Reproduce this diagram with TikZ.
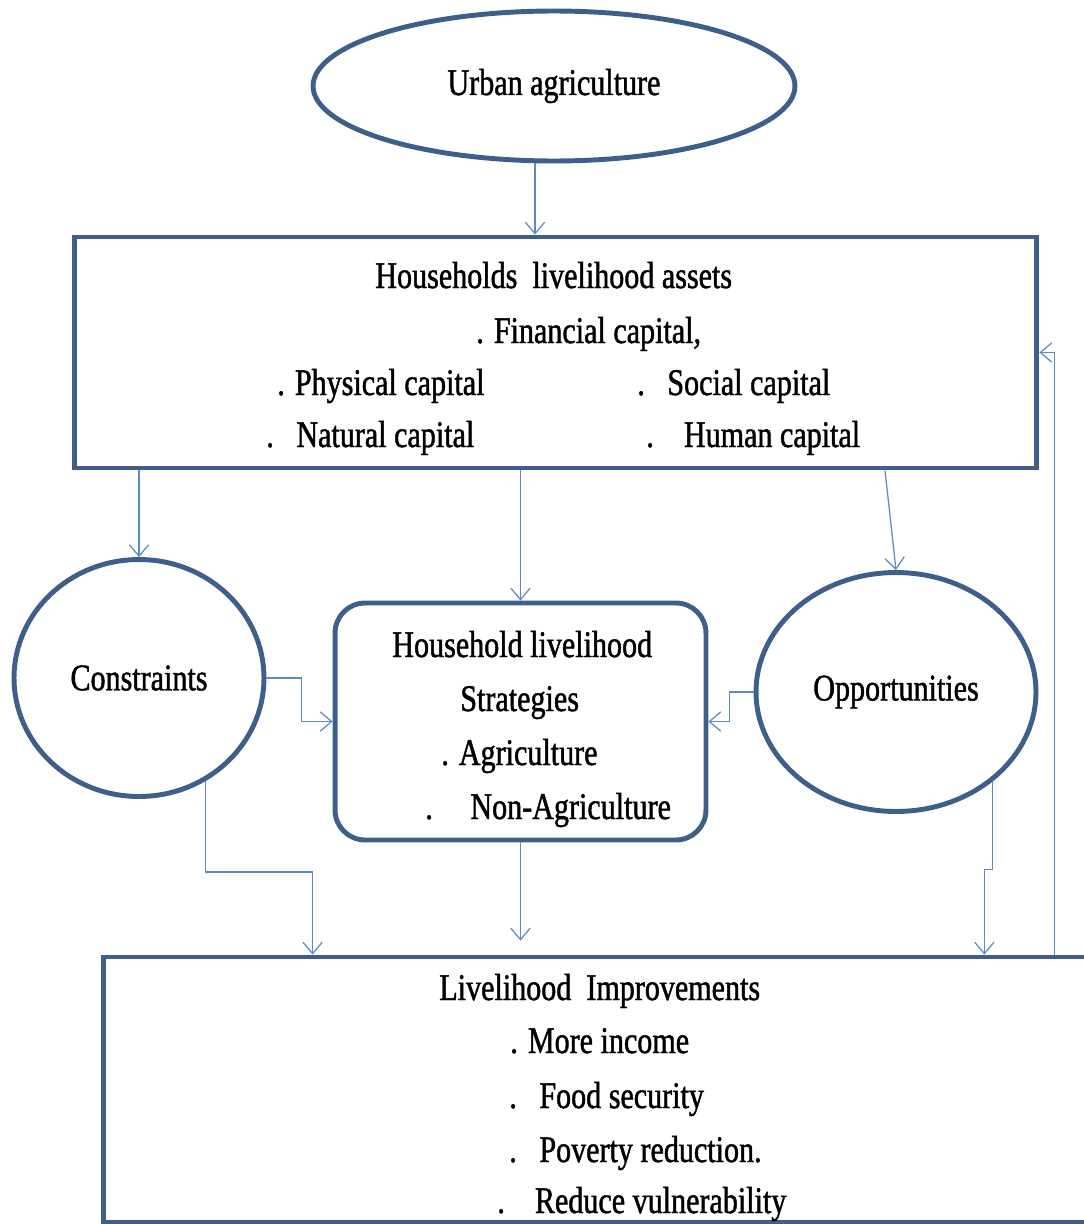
\documentclass[tikz,border=0pt]{standalone}
\usepackage{fontspec}
\setmainfont{Liberation Serif}[FakeStretch=0.8,UprightFeatures={FakeBold=1.2}]
\usetikzlibrary{shapes.geometric,arrows.meta,calc}
\definecolor{outline}{HTML}{3D5F8A}
\definecolor{linkblue}{HTML}{5B8BC0}

\begin{document}
\begin{tikzpicture}[x=0.02cm,y=-0.02cm,font=\fontsize{21.4}{26}\selectfont,
		box/.style={draw=outline,line width=2.8pt,inner sep=0pt},
		conn/.style={draw=linkblue,line width=0.7pt,-{Straight Barb[length=6.5pt,width=11pt]}},
		txt/.style={anchor=base west,inner sep=0pt}]
				\useasboundingbox (0,0) rectangle (1084,1224);
				
				\node[box,ellipse,minimum width=9.64cm,minimum height=3cm] (urban) at (554,86) {Urban agriculture};
				
				\node[box,rectangle,minimum width=19.26cm,minimum height=4.62cm] (assets) at (555.5,352.5) {};
				\node[txt] (a0) at (375,288) {Households~~livelihood assets};
				\node[txt] (a1) at (476,343) {. Financial capital,};
				\node[txt] (a2) at (277,395) {. Physical capital};
				\node[txt] (a3) at (637,395) {.~~~Social capital};
				\node[txt] (a4) at (266,447) {.~~~Natural capital};
				\node[txt] (a5) at (646,447) {.~~~~Human capital};
				
				\node[box,ellipse,minimum width=5cm,minimum height=4.74cm] (constraints) at (139,678) {Constraints};
				\node[box,ellipse,minimum width=5.6cm,minimum height=4.78cm] (opportunities) at (896,692) {Opportunities};
				
				\node[box,rectangle,rounded corners=0.6cm,minimum width=7.42cm,minimum height=4.74cm] (strategies) at (520.5,721.5) {};
				\node[txt] (s0) at (392,657) {Household livelihood};
				\node[txt] (s1) at (460,711) {Strategies};
				\node[txt] (s2) at (441,765) {. Agriculture};
				\node[txt] (s3) at (425,819) {.~~~~~Non-Agriculture};
				
				\node[box,rectangle,minimum width=19.74cm,minimum height=5.3cm] (improvements) at (596.5,1089.5) {};
				\node[txt] (i0) at (439,1000) {Livelihood~~Improvements};
				\node[txt] (i1) at (510,1053) {. More income};
				\node[txt] (i2) at (509,1108) {.~~~Food security};
				\node[txt] (i3) at (509,1162) {.~~~Poverty reduction.};
				\node[txt] (i4) at (497,1213) {.~~~~Reduce vulnerability};
				
				\draw[conn] ([xshift=-0.38cm]urban.south) -- ([xshift=-0.38cm]urban.south |- assets.north);
				\draw[conn] (assets.south -| constraints.north) -- (constraints.north);
				\draw[conn] (assets.south -| strategies.north) -- (strategies.north);
				\draw[conn] ([xshift=-0.22cm]assets.south -| opportunities.north) -- (opportunities.north);
				\draw[conn] (constraints.east) -- ++(35,0) |- (strategies.west);
				\draw[conn] (opportunities.west) -- ++(-24,0) |- (strategies.east);
				\draw[conn] (constraints.-57) -- ++(0,91) -| ([xshift=4.24cm]improvements.north west);
				\draw[conn,shorten >=0.28cm] (strategies.south) -- (strategies.south |- improvements.north);
				\draw[conn] (opportunities.-43) -- ++(0,88) -- ++(-8,0) coordinate (oj) -- (oj |- improvements.north);
				\draw[conn] ([xshift=-0.76cm]improvements.north east) |- (assets.east);
			\end{tikzpicture}
\end{document}
